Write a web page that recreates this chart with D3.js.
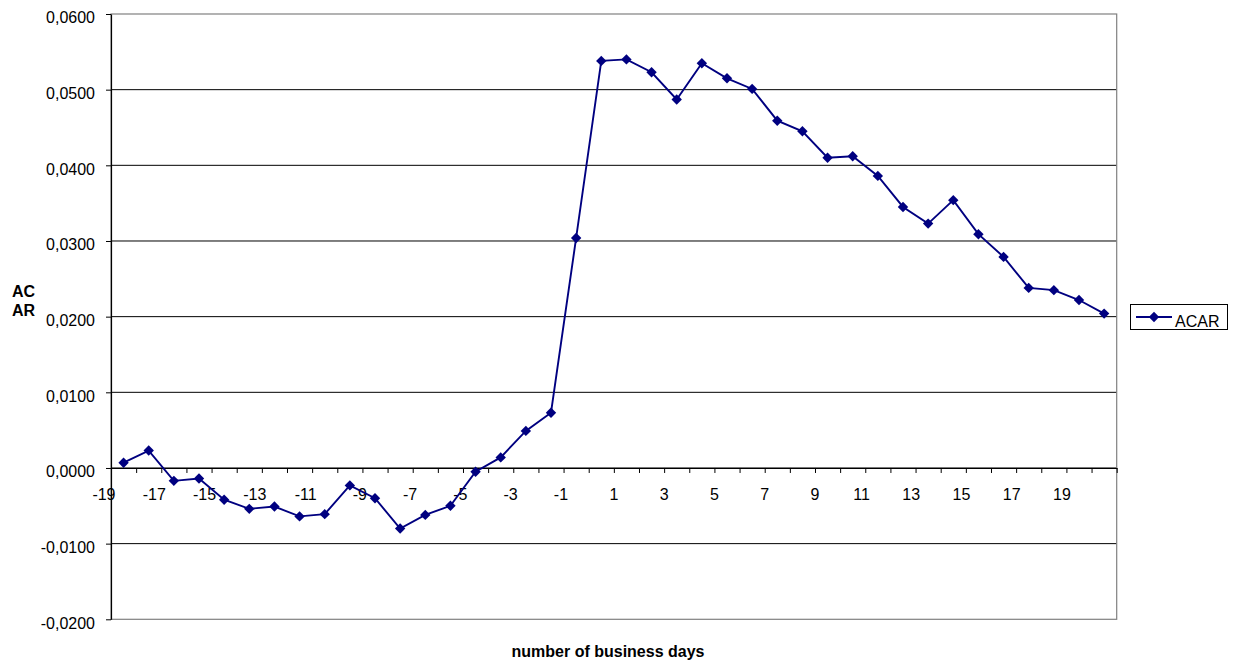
<!DOCTYPE html>
<html><head><meta charset="utf-8">
<script src="https://cdn.jsdelivr.net/npm/d3@7"></script>
<style>
html,body{margin:0;padding:0;background:#fff;}
svg{display:block;font-family:"Liberation Sans",Arial,sans-serif;}
</style></head>
<body>
<svg id="c" width="1243" height="663"></svg>
<script>
const days = d3.range(-19, 21);
const acar = [0.0007, 0.0023, -0.0017, -0.0014, -0.0042, -0.0054, -0.0051, -0.0064, -0.0061, -0.0023,
  -0.0040, -0.0080, -0.0062, -0.0050, -0.0005, 0.0014, 0.0049, 0.0073, 0.0304, 0.0538,
  0.0540, 0.0523, 0.0487, 0.0535, 0.0515, 0.0501, 0.0459, 0.0445, 0.0410, 0.0412,
  0.0386, 0.0345, 0.0323, 0.0354, 0.0309, 0.0279, 0.0238, 0.0235, 0.0222, 0.0204];
const yTicks = [-0.02, -0.01, 0, 0.01, 0.02, 0.03, 0.04, 0.05, 0.06];
const xLabelDays = d3.range(-19, 21, 2);
const seriesName = "ACAR";
const xTitle = "number of business days";
const yTitle = ["AC", "AR"];

const L = 111, R = 1116.7, T = 14, B = 619.3;
const svg = d3.select("#c");
const x = d3.scaleBand().domain(days).range([L, R]).padding(0);
const xb = d3.scaleLinear().domain([0, days.length]).range([L, R]);
const y = d3.scaleLinear().domain([-0.02, 0.06]).range([B, T]);
const fmt = v => (v < 0 ? "-" : "") + Math.abs(v).toFixed(4).replace(".", ",");

// gridlines
svg.append("g").selectAll("line").data(yTicks.filter(v => v > -0.02 && v < 0.06)).join("line")
  .attr("x1", L).attr("x2", R).attr("y1", d => y(d)).attr("y2", d => y(d))
  .attr("stroke", "#000").attr("stroke-width", 1);
// plot border (gray)
svg.append("rect").attr("x", L).attr("y", T).attr("width", R - L).attr("height", B - T)
  .attr("fill", "none").attr("stroke", "#808080").attr("stroke-width", 1.2);

// y axis
const ya = svg.append("g").attr("transform", `translate(${L},0)`)
  .call(d3.axisLeft(y).tickValues(yTicks).tickFormat(fmt).tickSize(5).tickSizeOuter(0).tickPadding(11));
ya.select(".domain").attr("stroke", "#000").attr("stroke-width", 1.2);
ya.selectAll(".tick line").attr("stroke", "#000");
ya.selectAll("text").attr("font-size", 16).attr("fill", "#000").attr("font-family", "Liberation Sans, Arial, sans-serif")
  .attr("dy", "0.55em").attr("y", 0);

// x axis tick marks at category boundaries, on zero line
const xa = svg.append("g").attr("transform", `translate(0,${y(0)})`)
  .call(d3.axisBottom(xb).tickValues(d3.range(0, days.length + 1)).tickFormat("").tickSize(5).tickSizeOuter(0));
xa.select(".domain").attr("stroke", "#000").attr("stroke-width", 1.2);
xa.selectAll(".tick line").attr("stroke", "#000");

// x labels (Excel-style: right aligned near left edge of each category)
const xl = svg.append("g").attr("transform", `translate(0,${y(0)})`)
  .call(d3.axisBottom(xb).tickValues(xLabelDays.map(d => days.indexOf(d))).tickFormat(i => String(days[i])).tickSize(0));
xl.select(".domain").remove();
xl.selectAll("text").attr("font-size", 16).attr("fill", "#000").attr("font-family", "Liberation Sans, Arial, sans-serif")
  .attr("text-anchor", "end").attr("x", 4).attr("y", 32).attr("dy", 0);

// line
const cx = d => x(d) + x.bandwidth() / 2;
svg.append("path").datum(days.map((d, i) => [d, acar[i]]))
  .attr("fill", "none").attr("stroke", "#000080").attr("stroke-width", 1.9)
  .attr("d", d3.line().x(d => cx(d[0])).y(d => y(d[1])));
const dia = s => `M0,${-s}L${s},0L0,${s}L${-s},0Z`;
svg.append("g").selectAll("path").data(days.map((d, i) => [d, acar[i]])).join("path")
  .attr("transform", d => `translate(${cx(d[0])},${y(d[1])})`)
  .attr("d", dia(5.2)).attr("fill", "#000080");

// axis titles
svg.append("text").attr("x", 608).attr("y", 657).attr("text-anchor", "middle")
  .attr("font-size", 16).attr("font-weight", "bold").text(xTitle);
svg.append("g").selectAll("text").data(yTitle).join("text")
  .attr("x", 12).attr("y", (d, i) => 297 + i * 19).attr("font-size", 16).attr("font-weight", "bold").text(d => d);

// legend
const lg = svg.append("g");
lg.append("rect").attr("x", 1130.5).attr("y", 304.5).attr("width", 97).attr("height", 25)
  .attr("fill", "#fff").attr("stroke", "#000").attr("stroke-width", 1);
lg.append("line").attr("x1", 1136).attr("x2", 1172).attr("y1", 317).attr("y2", 317)
  .attr("stroke", "#000080").attr("stroke-width", 1.9);
lg.append("path").attr("transform", "translate(1154,317)").attr("d", dia(5.2)).attr("fill", "#000080");
lg.append("text").attr("x", 1175).attr("y", 327).attr("font-size", 16).text(seriesName);
</script>
</body></html>
